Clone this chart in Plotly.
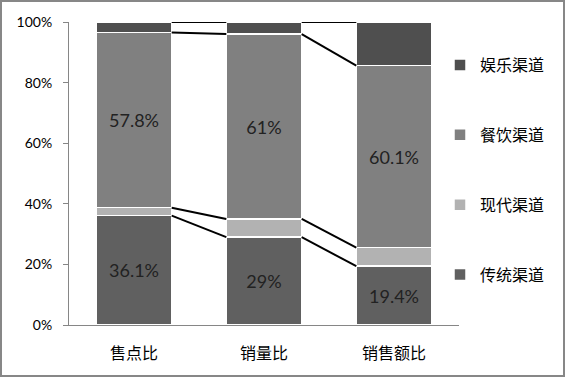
import plotly.graph_objects as go

categories = ["售点比", "销量比", "销售额比"]
series_names = ["传统渠道", "现代渠道", "餐饮渠道", "娱乐渠道"]
traditional = [36.1, 29.0, 19.4]
modern = [2.6, 6.0, 6.1]
catering = [57.8, 61.0, 60.1]
entertainment = [3.5, 4.0, 14.4]
y_ticks = [0, 20, 40, 60, 80, 100]

series_values = [traditional, modern, catering, entertainment]
colors = ["#606060", "#b2b2b2", "#808080", "#4f4f4f"]
show_labels = [True, False, True, False]

W, H = 565, 377
ML, MR, MT, MB = 69, 106, 22, 52
PW, PH = W - ML - MR, H - MT - MB
BAR_W = 0.58
xs = list(range(len(categories)))

fig = go.Figure()

n = len(series_names)
for i, (name, vals, col, lab) in enumerate(zip(series_names, series_values, colors, show_labels)):
    fig.add_trace(go.Bar(
        x=xs, y=vals, name=name, width=BAR_W,
        marker=dict(color=col, line=dict(color="white", width=1.5)),
        text=[f"{v:g}%" for v in vals] if lab else None,
        textposition="inside" if lab else "none",
        insidetextanchor="middle",
        textfont=dict(family="Lato", size=18, color="#222222"),
        legendgroup=name,
        legendrank=n - i,
        hoverinfo="skip",
    ))

# series lines connecting cumulative tops
cum = []
run = [0.0] * len(categories)
for vals in series_values:
    run = [r + v for r, v in zip(run, vals)]
    cum.append(run[:])

for tops in cum:
    lx, ly = [], []
    for i in range(len(categories) - 1):
        lx += [xs[i] + BAR_W / 2, xs[i + 1] - BAR_W / 2, None]
        ly += [tops[i], tops[i + 1], None]
    fig.add_trace(go.Scatter(x=lx, y=ly, mode="lines",
                             line=dict(color="black", width=2),
                             showlegend=False, hoverinfo="skip"))

# outer chart border
fig.add_shape(type="rect", xref="paper", yref="paper",
              x0=(1 - ML) / PW, x1=(W - 1 - ML) / PW,
              y0=-(H - 1 - MT - PH) / PH, y1=(PH + MT - 1) / PH,
              line=dict(color="#878787", width=2), fillcolor="rgba(0,0,0,0)",
              layer="above")

fig.update_layout(
    width=W, height=H,
    margin=dict(l=ML, r=MR, t=MT, b=MB, pad=0, autoexpand=False),
    barmode="stack",
    plot_bgcolor="white", paper_bgcolor="white",
    showlegend=True,
    legend=dict(
        x=(440 - ML) / PW, xanchor="left",
        y=0.511, yanchor="middle",
        traceorder="grouped",
        tracegroupgap=46,
        font=dict(family="Noto Sans CJK SC", size=16, color="#000000"),
        bgcolor="rgba(0,0,0,0)",
    ),
    xaxis=dict(
        range=[-0.5, 2.5], tickvals=xs, ticktext=categories,
        showline=True, linecolor="#868686", linewidth=1,
        ticks="", showgrid=False, zeroline=False,
        tickfont=dict(family="Noto Sans CJK SC", size=16, color="#000000"),
        ticklabelstandoff=14,
        fixedrange=True,
    ),
    yaxis=dict(
        range=[0, 100], tickvals=y_ticks, ticktext=[f"{t}%" for t in y_ticks],
        showline=True, linecolor="#868686", linewidth=1,
        ticks="outside", ticklen=5, tickcolor="#868686",
        showgrid=False, zeroline=False,
        tickfont=dict(family="Lato", size=14, color="#000000"),
        ticklabelstandoff=8,
        fixedrange=True,
    ),
)

fig.write_html("out.html")
